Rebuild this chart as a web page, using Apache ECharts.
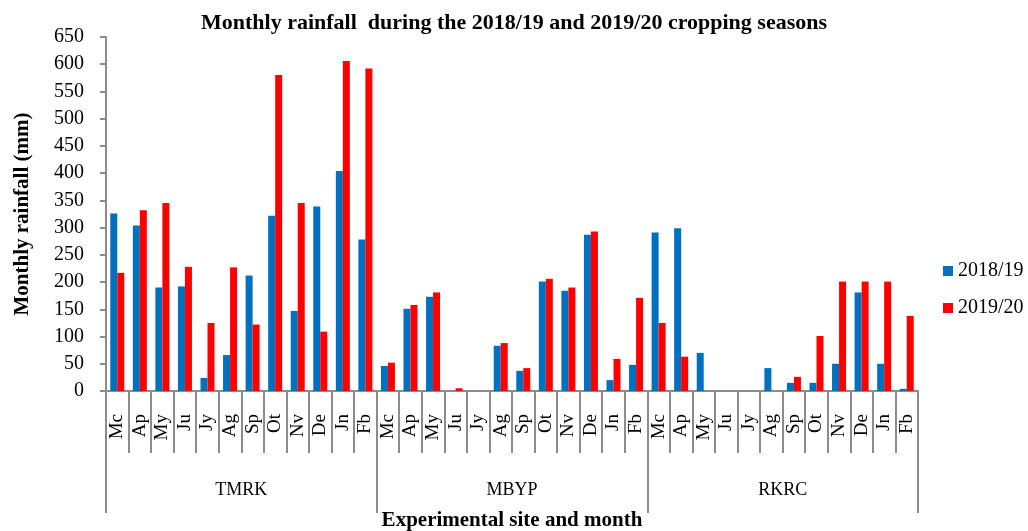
<!DOCTYPE html>
<html>
<head>
<meta charset="utf-8">
<script src="https://cdn.jsdelivr.net/npm/echarts@6/dist/echarts.min.js"></script>
<style>
  html, body { margin: 0; padding: 0; background: #fff; }
  #chart { width: 1028px; height: 531px; }
</style>
</head>
<body>
<div id="chart"></div>
<script>
const SITES = ['TMRK', 'MBYP', 'RKRC'];
const MONTHS = ['Mc', 'Ap', 'My', 'Ju', 'Jy', 'Ag', 'Sp', 'Ot', 'Nv', 'De', 'Jn', 'Fb'];
const SEASONS = ['2018/19', '2019/20'];

// rainfall (mm), site by site, Mc..Fb
const RAIN_1819 = [
  326, 304, 190, 192, 24, 66, 212, 322, 147, 339, 404, 278,   // TMRK
  46, 151, 173, 0, 0, 83, 37, 201, 184, 287, 20, 48,          // MBYP
  291, 299, 70, 0, 0, 42, 15, 15, 50, 181, 50, 4              // RKRC
];
const RAIN_1920 = [
  217, 332, 345, 228, 125, 227, 122, 580, 345, 109, 606, 592,
  52, 158, 181, 5, 0, 88, 42, 206, 190, 293, 59, 171,
  125, 63, 0, 0, 0, 0, 26, 101, 201, 201, 201, 138
];

const monthCats = [];
SITES.forEach(s => MONTHS.forEach(m => monthCats.push(m)));

const FONT = '"Liberation Serif", "Times New Roman", serif';
const AXIS_GREY = '#8c8c8c';

const chart = echarts.init(document.getElementById('chart'));
chart.setOption({
  animation: false,
  textStyle: { fontFamily: FONT, color: '#000' },
  title: {
    text: 'Monthly rainfall  during the 2018/19 and 2019/20 cropping seasons',
    left: 'center', top: 7,
    textStyle: { fontFamily: FONT, fontSize: 22, fontWeight: 'bold', color: '#000' },
  },
  legend: {
    orient: 'vertical', left: 938, top: 256,
    icon: 'rect', itemWidth: 10, itemHeight: 10, itemGap: 17,
    textStyle: { fontFamily: FONT, fontSize: 20, color: '#000' },
    data: SEASONS,
  },
  grid: { left: 106, right: 110, top: 37, bottom: 140, outerBoundsMode: 'none' },
  xAxis: [
    {
      type: 'category', data: monthCats, position: 'bottom',
      axisLine: { show: true, lineStyle: { color: AXIS_GREY, width: 2 } },
      axisTick: { show: true, interval: 0, length: 62, lineStyle: { color: AXIS_GREY, width: 2 } },
      axisLabel: { interval: 0, rotate: 90, margin: 23, fontSize: 19, color: '#000', fontFamily: FONT },
    },
    {
      type: 'category', data: SITES, position: 'bottom',
      axisLine: { show: false },
      axisTick: { show: true, interval: 0, length: 122, lineStyle: { color: AXIS_GREY, width: 2 } },
      axisLabel: { interval: 0, margin: 90, fontSize: 18, color: '#000', fontFamily: FONT },
      name: 'Experimental site and month', nameLocation: 'middle', nameGap: 119,
      nameTextStyle: { fontFamily: FONT, fontSize: 21, fontWeight: 'bold', color: '#000' },
    },
  ],
  yAxis: {
    type: 'value', min: 0, max: 650, interval: 50,
    axisLine: { show: true, lineStyle: { color: AXIS_GREY, width: 2 } },
    axisTick: { show: true, inside: false, length: 6, lineStyle: { color: AXIS_GREY, width: 2 } },
    splitLine: { show: false },
    axisLabel: { margin: 22, fontSize: 20, color: '#000', fontFamily: FONT },
    name: 'Monthly rainfall (mm)', nameLocation: 'middle', nameGap: 73, nameRotate: 90,
    nameTextStyle: { fontFamily: FONT, fontSize: 21, fontWeight: 'bold', color: '#000' },
  },
  series: [
    { name: SEASONS[0], type: 'bar', xAxisIndex: 0, data: RAIN_1819,
      barWidth: 7, barGap: '0%', itemStyle: { color: '#0070C0' } },
    { name: SEASONS[1], type: 'bar', xAxisIndex: 0, data: RAIN_1920,
      barWidth: 7, barGap: '0%', itemStyle: { color: '#FF0000' } },
  ],
});
</script>
</body>
</html>
